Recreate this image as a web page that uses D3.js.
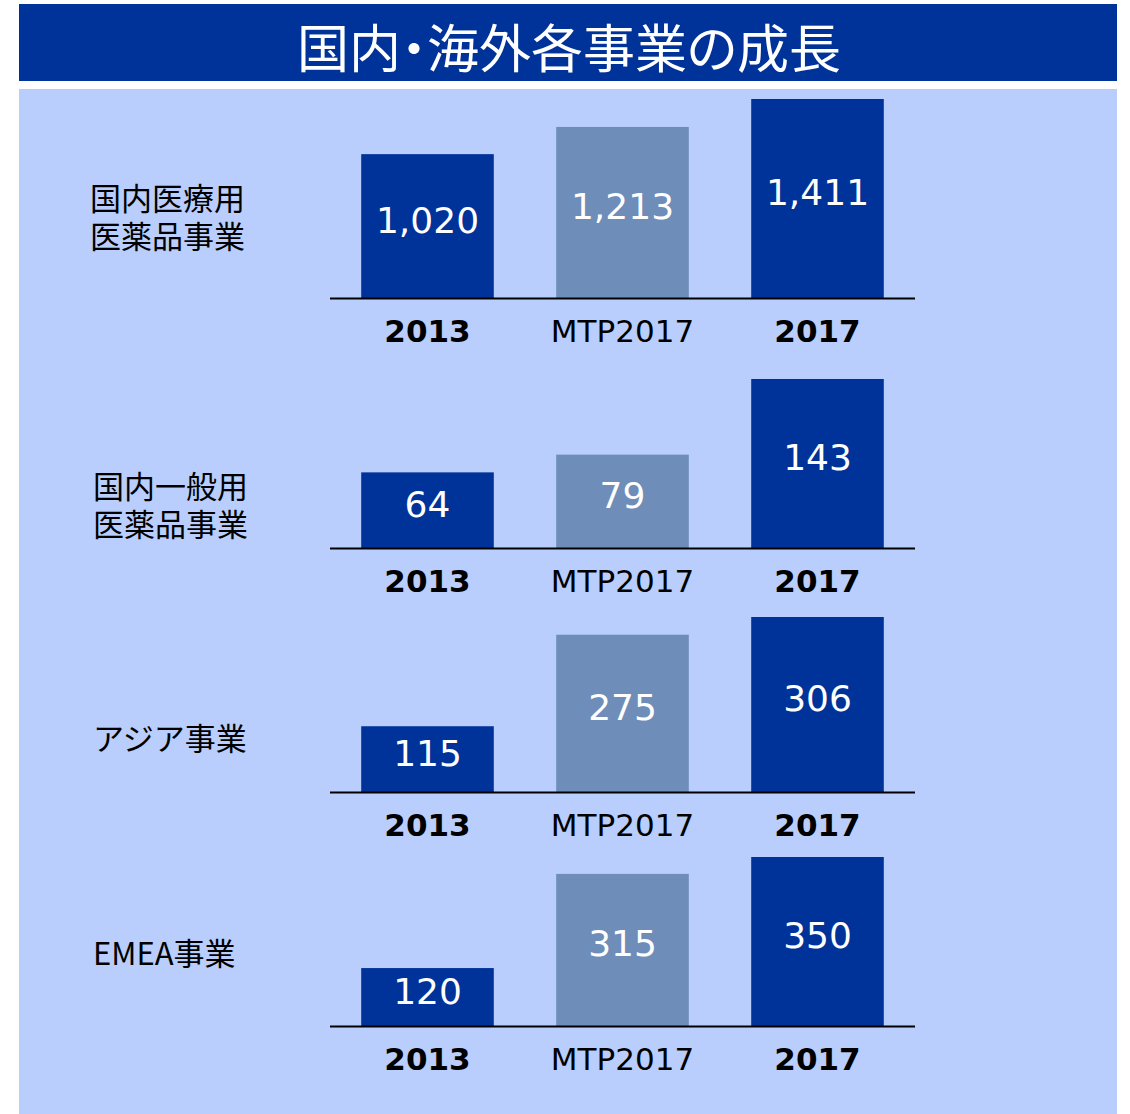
<!DOCTYPE html>
<html>
<head>
<meta charset="utf-8">
<script src="https://cdn.jsdelivr.net/npm/d3@7"></script>
<style>
  body { margin: 0; background: #fff; }
  text { font-family: "DejaVu Sans", "Noto Sans CJK JP", sans-serif; }
</style>
</head>
<body>
<div id="chart"></div>
<script>
var svgWidth = 1130;
var svgHeight = 1114;

// data
var title = "国内・海外各事業の成長";
var periods = ["2013", "MTP2017", "2017"];
var segments = [["国内医療用", "医薬品事業"], ["国内一般用", "医薬品事業"], ["アジア事業"], ["EMEA事業"]];
var domesticRx = [1020, 1213, 1411];
var domesticOtc = [64, 79, 143];
var asia = [115, 275, 306];
var emea = [120, 315, 350];
var seriesList = [domesticRx, domesticOtc, asia, emea];

// layout for each panel: baseline y, top of tallest bar, label y
var panels = [
  { base: 298, top: 99, labelY: 196 },
  { base: 548, top: 379, labelY: 484 },
  { base: 792, top: 617, labelY: 736 },
  { base: 1026, top: 857, labelY: 951 }
];

var darkBlue = "#003399";
var greyBlue = "#6e8db9";
var bgBlue = "#b9cefd";

var svg = d3.select("#chart")
  .append("svg")
  .attr("width", svgWidth)
  .attr("height", svgHeight);

// title bar and panel background
svg.append("rect")
  .attr("x", 19).attr("y", 4)
  .attr("width", 1098).attr("height", 77)
  .attr("fill", darkBlue);

svg.append("text")
  .attr("x", 569).attr("y", 45)
  .attr("text-anchor", "middle")
  .attr("dominant-baseline", "central")
  .attr("fill", "#fff")
  .style("font-family", "'Noto Sans CJK JP', sans-serif")
  .style("font-size", "52px")
  .style("font-feature-settings", "'palt' 1")
  .text(title);

svg.append("rect")
  .attr("x", 19).attr("y", 89)
  .attr("width", 1098).attr("height", svgHeight - 89)
  .attr("fill", bgBlue);

var xScale = d3.scaleBand()
  .domain(periods)
  .range([330, 915])
  .paddingInner(0.32)
  .paddingOuter(0.16);

panels.forEach(function(p, i) {
  var values = seriesList[i];
  var g = svg.append("g");

  var yScale = d3.scaleLinear()
    .domain([0, d3.max(values)])
    .range([p.base, p.top]);

  var data = periods.map(function(k, j) { return { period: k, value: values[j] }; });

  g.selectAll("rect")
    .data(data)
    .enter()
    .append("rect")
    .attr("x", d => xScale(d.period))
    .attr("y", d => yScale(d.value))
    .attr("width", xScale.bandwidth())
    .attr("height", d => p.base - yScale(d.value))
    .attr("fill", d => d.period == "MTP2017" ? greyBlue : darkBlue);

  // value labels in the middle of the bars
  g.selectAll(".val")
    .data(data)
    .enter()
    .append("text")
    .attr("x", d => xScale(d.period) + xScale.bandwidth() / 2)
    .attr("y", d => (yScale(d.value) + p.base) / 2 - 6)
    .attr("text-anchor", "middle")
    .attr("dominant-baseline", "central")
    .attr("fill", "#fff")
    .style("font-size", "36px")
    .text(d => d3.format(",")(d.value));

  // axis along the baseline
  var axis = g.append("g")
    .attr("transform", `translate(0, ${p.base})`)
    .call(d3.axisBottom(xScale).tickSize(0).tickPadding(22));

  axis.select(".domain")
    .attr("d", "M330,0.5H915")
    .attr("stroke", "#000")
    .attr("stroke-width", 2);

  axis.selectAll(".tick text")
    .attr("fill", "#000")
    .style("font-size", "31px")
    .style("font-family", "'DejaVu Sans', sans-serif")
    .style("font-weight", d => d == "MTP2017" ? "normal" : "bold");

  // segment name on the left, one text per line
  var lx = i == 0 ? 90 : 93;
  g.selectAll(".seg")
    .data(segments[i])
    .enter()
    .append("text")
    .attr("x", lx)
    .attr("y", (d, k) => p.labelY + k * 38)
    .attr("dominant-baseline", "central")
    .attr("fill", "#000")
    .style("font-family", "'Noto Sans CJK JP', sans-serif")
    .style("font-size", "31px")
    .text(d => d);
});
</script>
</body>
</html>
